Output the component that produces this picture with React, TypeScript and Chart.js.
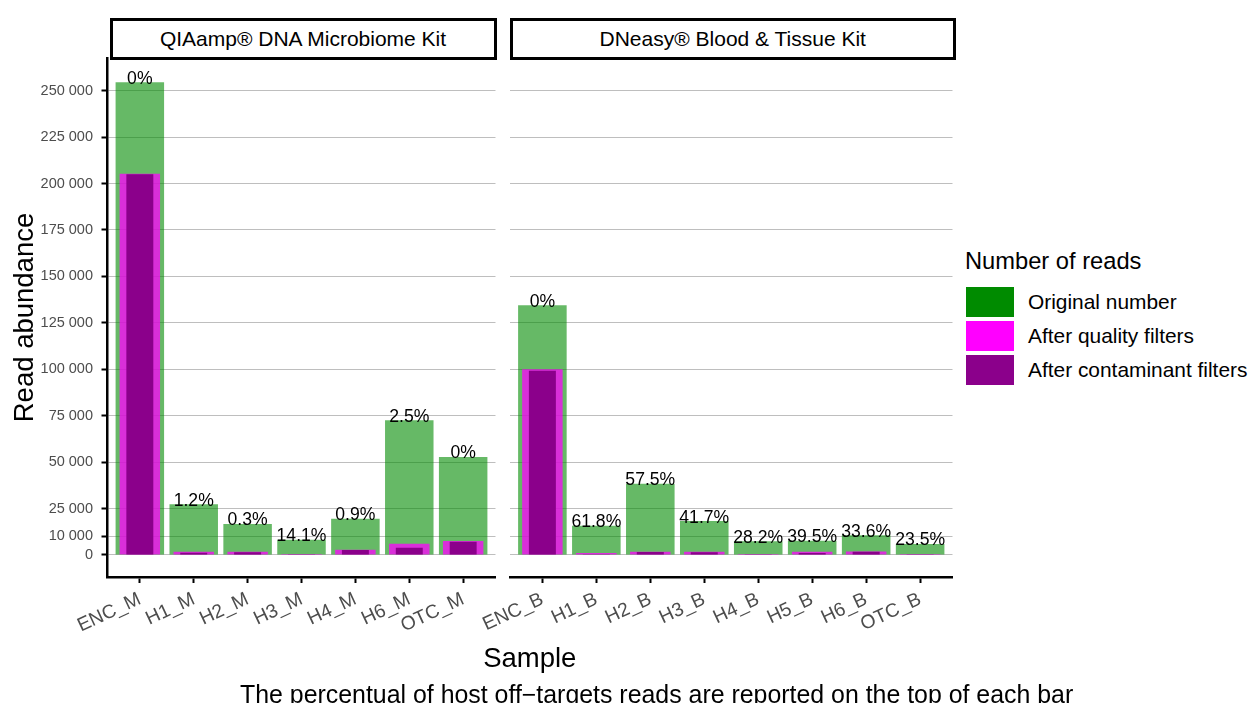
import React, { useEffect, useRef } from 'react';
import { Chart, registerables } from 'chart.js';

Chart.register(...registerables);

const FONT = "'Liberation Sans', Arial, Helvetica, sans-serif";

// ---- data ----
const panelTitles = ['QIAamp® DNA Microbiome Kit', 'DNeasy® Blood & Tissue Kit'];

const samplesM = ['ENC_M', 'H1_M', 'H2_M', 'H3_M', 'H4_M', 'H6_M', 'OTC_M'];
const originalM = [254500, 27300, 16700, 8240, 19540, 72500, 52800];
const qualityM = [205300, 1780, 1780, 600, 2850, 6080, 7540];
const contaminantM = [205000, 1240, 1450, 400, 2690, 3930, 7160];
const pctM = ['0%', '1.2%', '0.3%', '14.1%', '0.9%', '2.5%', '0%'];

const samplesB = ['ENC_B', 'H1_B', 'H2_B', 'H3_B', 'H4_B', 'H5_B', 'H6_B', 'OTC_B'];
const originalB = [134440, 15780, 38390, 18300, 7380, 7700, 10600, 5920];
const qualityB = [99980, 1100, 1780, 1780, 540, 1780, 1900, 540];
const contaminantB = [99230, 400, 1600, 1450, 380, 1080, 1800, 380];
const pctB = ['0%', '61.8%', '57.5%', '41.7%', '28.2%', '39.5%', '33.6%', '23.5%'];

const yTicks = [0, 10000, 25000, 50000, 75000, 100000, 125000, 150000, 175000, 200000, 225000, 250000];
const seriesNames = ['Original number', 'After quality filters', 'After contaminant filters'];
const legendColors = ['#008B00', '#FF00FF', '#8B008B'];
const barColors = ['rgba(0,139,0,0.6)', 'rgba(255,0,255,0.75)', 'rgb(139,0,139)'];
const barPercents = [0.9, 0.75, 0.5];
const legendTitle = 'Number of reads';
const xTitle = 'Sample';
const yTitle = 'Read abundance';
const caption = 'The percentual of host off−targets reads are reported on the top of each bar';

const Y_MIN = -11850;
const Y_MAX = 267600;

const fmt = (v: number) => String(v).replace(/\B(?=(\d{3})+(?!\d))/g, ' ');

const pctPlugin = (pct: string[]) => ({
  id: 'pctLabels',
  afterDatasetsDraw(chart: any) {
    const meta = chart.getDatasetMeta(0);
    const ctx = chart.ctx;
    ctx.save();
    ctx.font = `17.6px ${FONT}`;
    ctx.fillStyle = '#000';
    ctx.textAlign = 'center';
    ctx.textBaseline = 'alphabetic';
    meta.data.forEach((bar: any, i: number) => ctx.fillText(pct[i], bar.x, bar.y + 1.5));
    ctx.restore();
  },
});

function makeChart(
  canvas: HTMLCanvasElement,
  samples: string[],
  series: number[][],
  pct: string[],
  showY: boolean
) {
  const datasets = series.map((arr, k) => ({
    label: seriesNames[k],
    data: arr.map((v, i) => ({ x: i, y: v })),
    backgroundColor: barColors[k],
    barPercentage: barPercents[k],
    categoryPercentage: 1,
    grouped: false,
    order: 3 - k,
  }));
  return new Chart(canvas, {
    type: 'bar',
    data: { datasets } as any,
    options: {
      responsive: false,
      animation: false,
      layout: {
        padding: showY
          ? { left: 0, right: 4.5, top: 58, bottom: 0 }
          : { left: 50, right: 7.5, top: 58, bottom: 0 },
      },
      plugins: { legend: { display: false }, tooltip: { enabled: false } },
      scales: {
        x: {
          type: 'linear',
          offset: false,
          min: -0.6,
          max: samples.length - 0.4,
          afterBuildTicks: (s: any) => {
            s.ticks = samples.map((_, i) => ({ value: i }));
          },
          afterFit: (s: any) => {
            s.height = 126;
            s.paddingLeft = 0;
            s.paddingRight = 0;
          },
          ticks: {
            autoSkip: false,
            callback: (v: any) => samples[Math.round(v)],
            color: '#4D4D4D',
            font: { size: 19.3, family: FONT },
            minRotation: 25,
            maxRotation: 25,
            padding: 5,
          },
          grid: {
            offset: false,
            drawOnChartArea: false,
            drawTicks: true,
            tickLength: 6,
            tickColor: '#000',
            tickWidth: 2,
          },
          border: { display: true, color: '#000', width: 2.5 },
        },
        y: {
          type: 'linear',
          min: Y_MIN,
          max: Y_MAX,
          afterBuildTicks: (s: any) => {
            s.ticks = yTicks.map((v) => ({ value: v }));
          },
          afterFit: (s: any) => {
            s.width = showY ? 107.5 : 0;
            s.paddingTop = 0;
            s.paddingBottom = 0;
          },
          ticks: {
            display: showY,
            callback: (v: any) => fmt(v),
            color: '#4D4D4D',
            font: { size: 14.5, family: FONT },
            padding: 8.5,
          },
          grid: {
            color: '#BEBEBE',
            lineWidth: 1,
            drawTicks: showY,
            tickLength: 6,
            tickColor: '#000',
            tickWidth: 2,
          },
          border: { display: showY, color: '#000', width: 2.5 },
          title: {
            display: showY,
            text: yTitle,
            color: '#000',
            font: { size: 27.5, family: FONT },
            padding: { top: 9, bottom: 0 },
          },
        },
      },
    } as any,
    plugins: [pctPlugin(pct)],
  });
}

const abs = (o: any): React.CSSProperties => ({ position: 'absolute', ...o });

export default function App() {
  const refA = useRef<HTMLCanvasElement>(null);
  const refB = useRef<HTMLCanvasElement>(null);

  useEffect(() => {
    const a = makeChart(refA.current!, samplesM, [originalM, qualityM, contaminantM], pctM, true);
    const b = makeChart(refB.current!, samplesB, [originalB, qualityB, contaminantB], pctB, false);
    return () => {
      a.destroy();
      b.destroy();
    };
  }, []);

  const strip = (left: number, width: number, text: string) => (
    <div
      style={abs({
        left,
        top: 17.5,
        width,
        height: 42,
        border: '3px solid #000',
        boxSizing: 'border-box',
        background: '#fff',
        display: 'flex',
        alignItems: 'center',
        justifyContent: 'center',
        fontSize: 21,
        color: '#000',
        whiteSpace: 'nowrap',
      })}
    >
      {text}
    </div>
  );

  return (
    <div
      style={{
        position: 'fixed',
        left: 0,
        top: 0,
        width: 1250,
        height: 703,
        overflow: 'hidden',
        background: '#fff',
        fontFamily: FONT,
      }}
    >
      <canvas ref={refA} width={500} height={703} style={abs({ left: 0, top: 0, width: 500, height: 703 })} />
      <canvas ref={refB} width={500} height={703} style={abs({ left: 460, top: 0, width: 500, height: 703 })} />
      {strip(109.5, 387, panelTitles[0])}
      {strip(509.5, 446.5, panelTitles[1])}
      <div
        style={abs({
          left: 329.75,
          width: 400,
          top: 644,
          textAlign: 'center',
          fontSize: 27.5,
          lineHeight: '27.5px',
          color: '#000',
        })}
      >
        {xTitle}
      </div>
      <div
        style={abs({
          left: 240,
          top: 682.4,
          fontSize: 24.9,
          lineHeight: '24.9px',
          color: '#000',
          whiteSpace: 'nowrap',
        })}
      >
        {caption}
      </div>
      <div style={abs({ left: 965, top: 250, fontSize: 23.7, lineHeight: '23.7px', color: '#000', whiteSpace: 'nowrap' })}>
        {legendTitle}
      </div>
      {seriesNames.map((name, i) => (
        <React.Fragment key={name}>
          <div style={abs({ left: 966, top: 286.5 + i * 34.2, width: 48, height: 30, background: legendColors[i] })} />
          <div
            style={abs({
              left: 1028,
              top: 286.5 + i * 34.2,
              height: 30,
              lineHeight: '30px',
              fontSize: 20.9,
              color: '#000',
              whiteSpace: 'nowrap',
            })}
          >
            {name}
          </div>
        </React.Fragment>
      ))}
    </div>
  );
}
